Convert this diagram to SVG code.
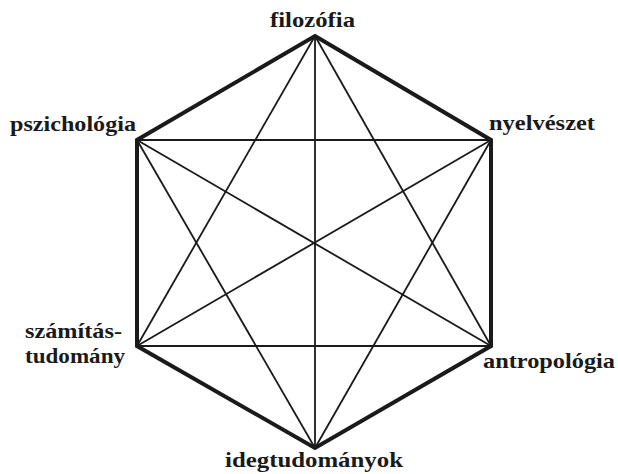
<svg xmlns="http://www.w3.org/2000/svg" width="618" height="474" viewBox="0 0 618 474">
<style>
.lbl{font-family:'Liberation Serif','DejaVu Serif',serif;font-weight:700;font-size:22px;fill:#1a1a1a}
.edge{stroke:#1a1a1a;stroke-width:4;fill:none;stroke-linejoin:miter}
.diag{stroke:#1a1a1a;stroke-width:1.8;fill:none}
</style>
<rect width="618" height="474" fill="#fff"/>
<g id="connectors">
<g class="diag">
<line x1="315" y1="36" x2="315" y2="448"/>
<line x1="137" y1="140" x2="491" y2="140"/>
<line x1="137" y1="346" x2="491" y2="346"/>
<line x1="137" y1="140" x2="491" y2="346"/>
<line x1="491" y1="140" x2="137" y2="346"/>
<line x1="315" y1="36" x2="137" y2="346"/>
<line x1="315" y1="36" x2="491" y2="346"/>
<line x1="315" y1="448" x2="137" y2="140"/>
<line x1="315" y1="448" x2="491" y2="140"/>
</g>
<polygon class="edge" points="315,36 491,140 491,346 315,448 137,346 137,140"/>
</g>
<g id="filozofia"><text class="lbl" x="270" y="27" textLength="85" lengthAdjust="spacingAndGlyphs">filozófia</text></g>
<g id="pszichologia"><text class="lbl" x="10" y="131" textLength="126" lengthAdjust="spacingAndGlyphs">pszichológia</text></g>
<g id="nyelveszet"><text class="lbl" x="489" y="130" textLength="106" lengthAdjust="spacingAndGlyphs">nyelvészet</text></g>
<g id="szamitastudomany"><text class="lbl" x="25" y="338" textLength="97" lengthAdjust="spacingAndGlyphs">számítás-</text><text class="lbl" x="25" y="363" textLength="100" lengthAdjust="spacingAndGlyphs">tudomány</text></g>
<g id="antropologia"><text class="lbl" x="483" y="368" textLength="132" lengthAdjust="spacingAndGlyphs">antropológia</text></g>
<g id="idegtudomanyok"><text class="lbl" x="225" y="467" textLength="178" lengthAdjust="spacingAndGlyphs">idegtudományok</text></g>
</svg>
